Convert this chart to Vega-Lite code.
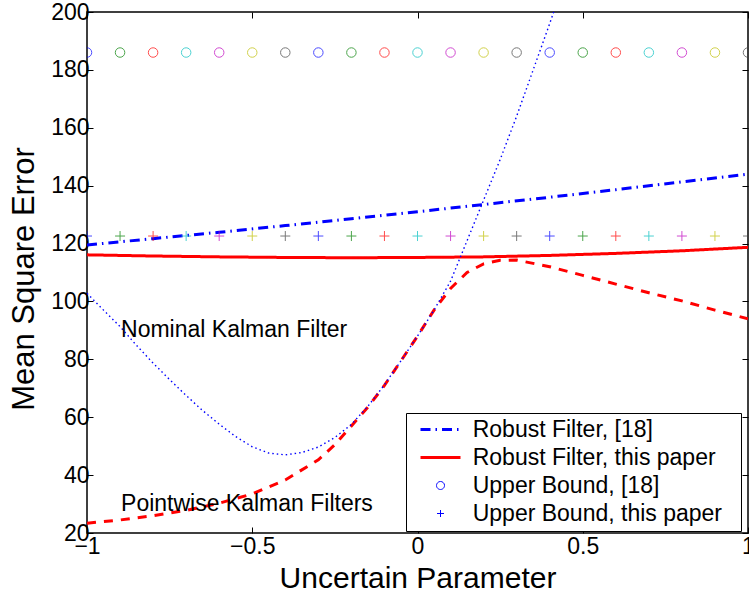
{
  "$schema": "https://vega.github.io/schema/vega-lite/v6.json",
  "width": 661,
  "height": 521,
  "autosize": "none",
  "padding": {"left": 87, "top": 12, "right": 1, "bottom": 63},
  "config": {
    "view": {"stroke": "black", "strokeWidth": 1.5},
    "font": "Liberation Sans",
    "axis": {"grid": false, "domain": false, "tickColor": "black", "tickWidth": 1, "labelColor": "black", "titleColor": "black", "labelFont": "Liberation Sans", "titleFont": "Liberation Sans", "titleFontWeight": "normal", "labelFontSize": 23, "titleFontSize": 30}
  },
  "datasets": {
    "curves": [
      {"s": "Robust Filter, [18]", "x": -1, "y": 119.5},
      {"s": "Robust Filter, [18]", "x": -0.8, "y": 121.7},
      {"s": "Robust Filter, [18]", "x": -0.6, "y": 123.9},
      {"s": "Robust Filter, [18]", "x": -0.4, "y": 126.2},
      {"s": "Robust Filter, [18]", "x": -0.2, "y": 128.6},
      {"s": "Robust Filter, [18]", "x": 0, "y": 131.0},
      {"s": "Robust Filter, [18]", "x": 0.2, "y": 133.5},
      {"s": "Robust Filter, [18]", "x": 0.4, "y": 136.0},
      {"s": "Robust Filter, [18]", "x": 0.6, "y": 138.6},
      {"s": "Robust Filter, [18]", "x": 0.8, "y": 141.3},
      {"s": "Robust Filter, [18]", "x": 1, "y": 144.0},
      {"s": "Robust Filter, this paper", "x": -1, "y": 116.1},
      {"s": "Robust Filter, this paper", "x": -0.8, "y": 115.7},
      {"s": "Robust Filter, this paper", "x": -0.6, "y": 115.4},
      {"s": "Robust Filter, this paper", "x": -0.4, "y": 115.2},
      {"s": "Robust Filter, this paper", "x": -0.2, "y": 115.1},
      {"s": "Robust Filter, this paper", "x": 0, "y": 115.2},
      {"s": "Robust Filter, this paper", "x": 0.2, "y": 115.4},
      {"s": "Robust Filter, this paper", "x": 0.4, "y": 115.9},
      {"s": "Robust Filter, this paper", "x": 0.6, "y": 116.6},
      {"s": "Robust Filter, this paper", "x": 0.8, "y": 117.5},
      {"s": "Robust Filter, this paper", "x": 1, "y": 118.7},
      {"s": "Pointwise", "x": -1, "y": 23.4},
      {"s": "Pointwise", "x": -0.9, "y": 24.5},
      {"s": "Pointwise", "x": -0.8, "y": 26.0},
      {"s": "Pointwise", "x": -0.7, "y": 27.8},
      {"s": "Pointwise", "x": -0.6, "y": 30.3},
      {"s": "Pointwise", "x": -0.5, "y": 33.5},
      {"s": "Pointwise", "x": -0.4, "y": 38.3},
      {"s": "Pointwise", "x": -0.3, "y": 45.3},
      {"s": "Pointwise", "x": -0.25, "y": 50.5},
      {"s": "Pointwise", "x": -0.2, "y": 57.0},
      {"s": "Pointwise", "x": -0.15, "y": 63.5},
      {"s": "Pointwise", "x": -0.1, "y": 71.0},
      {"s": "Pointwise", "x": -0.05, "y": 79.5},
      {"s": "Pointwise", "x": 0, "y": 88.0},
      {"s": "Pointwise", "x": 0.05, "y": 97.0},
      {"s": "Pointwise", "x": 0.1, "y": 104.5},
      {"s": "Pointwise", "x": 0.15, "y": 110.0},
      {"s": "Pointwise", "x": 0.2, "y": 113.0},
      {"s": "Pointwise", "x": 0.25, "y": 114.2},
      {"s": "Pointwise", "x": 0.3, "y": 114.3},
      {"s": "Pointwise", "x": 0.4, "y": 112.0},
      {"s": "Pointwise", "x": 0.5, "y": 109.0},
      {"s": "Pointwise", "x": 0.6, "y": 106.0},
      {"s": "Pointwise", "x": 0.7, "y": 103.0},
      {"s": "Pointwise", "x": 0.8, "y": 100.2},
      {"s": "Pointwise", "x": 0.9, "y": 97.0},
      {"s": "Pointwise", "x": 1, "y": 94.0},
      {"s": "Nominal", "x": -1, "y": 102.8},
      {"s": "Nominal", "x": -0.95, "y": 97.0},
      {"s": "Nominal", "x": -0.9, "y": 91.3},
      {"s": "Nominal", "x": -0.85, "y": 84.8},
      {"s": "Nominal", "x": -0.8, "y": 78.7},
      {"s": "Nominal", "x": -0.75, "y": 73.0},
      {"s": "Nominal", "x": -0.7, "y": 67.5},
      {"s": "Nominal", "x": -0.65, "y": 62.3},
      {"s": "Nominal", "x": -0.6, "y": 57.6},
      {"s": "Nominal", "x": -0.55, "y": 53.3},
      {"s": "Nominal", "x": -0.5, "y": 49.8},
      {"s": "Nominal", "x": -0.45, "y": 47.6},
      {"s": "Nominal", "x": -0.4, "y": 47.0},
      {"s": "Nominal", "x": -0.35, "y": 47.8},
      {"s": "Nominal", "x": -0.3, "y": 49.7},
      {"s": "Nominal", "x": -0.25, "y": 53.0},
      {"s": "Nominal", "x": -0.2, "y": 57.5},
      {"s": "Nominal", "x": -0.15, "y": 63.8},
      {"s": "Nominal", "x": -0.1, "y": 71.2},
      {"s": "Nominal", "x": -0.05, "y": 79.5},
      {"s": "Nominal", "x": 0, "y": 88.0},
      {"s": "Nominal", "x": 0.05, "y": 97.0},
      {"s": "Nominal", "x": 0.1, "y": 107.0},
      {"s": "Nominal", "x": 0.15, "y": 121.0},
      {"s": "Nominal", "x": 0.2, "y": 135.0},
      {"s": "Nominal", "x": 0.25, "y": 149.0},
      {"s": "Nominal", "x": 0.3, "y": 164.0},
      {"s": "Nominal", "x": 0.35, "y": 180.0},
      {"s": "Nominal", "x": 0.4, "y": 196.0},
      {"s": "Nominal", "x": 0.43, "y": 206.0}
    ],
    "circles": [
      {"x": -1, "y": 186, "k": 0}, {"x": -0.9, "y": 186, "k": 1}, {"x": -0.8, "y": 186, "k": 2},
      {"x": -0.7, "y": 186, "k": 3}, {"x": -0.6, "y": 186, "k": 4}, {"x": -0.5, "y": 186, "k": 5},
      {"x": -0.4, "y": 186, "k": 6}, {"x": -0.3, "y": 186, "k": 0}, {"x": -0.2, "y": 186, "k": 1},
      {"x": -0.1, "y": 186, "k": 2}, {"x": 0, "y": 186, "k": 3}, {"x": 0.1, "y": 186, "k": 4},
      {"x": 0.2, "y": 186, "k": 5}, {"x": 0.3, "y": 186, "k": 6}, {"x": 0.4, "y": 186, "k": 0},
      {"x": 0.5, "y": 186, "k": 1}, {"x": 0.6, "y": 186, "k": 2}, {"x": 0.7, "y": 186, "k": 3},
      {"x": 0.8, "y": 186, "k": 4}, {"x": 0.9, "y": 186, "k": 5}, {"x": 1, "y": 186, "k": 6}
    ],
    "pluses": [
      {"x": -1, "y": 122.6, "k": 0}, {"x": -0.9, "y": 122.6, "k": 1}, {"x": -0.8, "y": 122.6, "k": 2},
      {"x": -0.7, "y": 122.6, "k": 3}, {"x": -0.6, "y": 122.6, "k": 4}, {"x": -0.5, "y": 122.6, "k": 5},
      {"x": -0.4, "y": 122.6, "k": 6}, {"x": -0.3, "y": 122.6, "k": 0}, {"x": -0.2, "y": 122.6, "k": 1},
      {"x": -0.1, "y": 122.6, "k": 2}, {"x": 0, "y": 122.6, "k": 3}, {"x": 0.1, "y": 122.6, "k": 4},
      {"x": 0.2, "y": 122.6, "k": 5}, {"x": 0.3, "y": 122.6, "k": 6}, {"x": 0.4, "y": 122.6, "k": 0},
      {"x": 0.5, "y": 122.6, "k": 1}, {"x": 0.6, "y": 122.6, "k": 2}, {"x": 0.7, "y": 122.6, "k": 3},
      {"x": 0.8, "y": 122.6, "k": 4}, {"x": 0.9, "y": 122.6, "k": 5}, {"x": 1, "y": 122.6, "k": 6}
    ],
    "notes": [
      {"x": -0.897, "y": 90.1, "label": "Nominal Kalman Filter"},
      {"x": -0.897, "y": 30.0, "label": "Pointwise Kalman Filters"}
    ]
  },
  "resolve": {"axis": {"x": "independent", "y": "independent"}},
  "layer": [
    {
      "data": {"name": "curves"},
      "mark": {"type": "line", "clip": true},
      "encoding": {
        "x": {"field": "x", "type": "quantitative", "scale": {"domain": [-1, 1], "nice": false, "zero": false},
              "axis": {"orient": "bottom", "values": [-1, -0.5, 0, 0.5, 1], "format": "~g", "tickSize": -6, "labelPadding": 8, "labelFlush": false, "title": "Uncertain Parameter", "titleBaseline": "alphabetic", "titleY": 54}},
        "y": {"field": "y", "type": "quantitative", "scale": {"domain": [20, 200], "nice": false, "zero": false},
              "axis": {"orient": "left", "values": [20, 40, 60, 80, 100, 120, 140, 160, 180, 200], "tickSize": -6, "labelPadding": 4, "labelFlush": false, "title": "Mean Square Error", "titleFontSize": 31, "titleBaseline": "alphabetic", "titleX": -54, "titleY": 266.5}},
        "color": {"field": "s", "type": "nominal",
          "scale": {"domain": ["Robust Filter, [18]", "Robust Filter, this paper", "Upper Bound, [18]", "Upper Bound, this paper", "Nominal", "Pointwise"],
                    "range": ["#0000ff", "#ff0000", "#0000ff", "#0000ff", "#0000ff", "#ff0000"]},
          "legend": {
            "title": ".", "titleOrient": "right", "titleFontSize": 1, "titlePadding": 13, "titleOpacity": 0,
            "orient": "none", "legendX": 319, "legendY": 401,
            "values": ["Robust Filter, [18]", "Robust Filter, this paper", "Upper Bound, [18]", "Upper Bound, this paper"],
            "symbolSize": 400, "symbolOffset": 18, "labelOffset": 20.7, "padding": 5, "rowPadding": 4,
            "labelFont": "Liberation Sans", "labelFontSize": 23, "labelColor": "black", "labelLimit": 500,
            "strokeColor": "black", "fillColor": "white",
            "encode": {
              "symbols": {"update": {
                "shape": {"signal": "datum.value == 'Upper Bound, [18]' ? 'M0.4,0A0.4,0.4,0,1,1,-0.4,0A0.4,0.4,0,1,1,0.4,0Z' : (datum.value == 'Upper Bound, this paper' ? 'M-0.35,0H0.35M0,-0.35V0.35' : 'M-2,0H2')"},
                "strokeDash": {"signal": "datum.value == 'Robust Filter, [18]' ? [10,5,1.5,5] : [1,0]"},
                "strokeWidth": {"signal": "indexof(['Upper Bound, [18]','Upper Bound, this paper'], datum.value) >= 0 ? 1 : 3"},
                "fill": {"value": "transparent"}
              }}
            }
          }},
        "strokeDash": {"field": "s", "type": "nominal", "legend": null,
          "scale": {"domain": ["Robust Filter, [18]", "Robust Filter, this paper", "Nominal", "Pointwise"],
                    "range": [[10, 5, 1.5, 5], [1, 0], [1.5, 3], [9, 8]]}},
        "strokeWidth": {"condition": {"test": "datum.s == 'Nominal'", "value": 1.4}, "value": 3}
      }
    },
    {
      "data": {"name": "circles"},
      "mark": {"type": "point", "shape": "circle", "filled": false, "size": 90, "strokeWidth": 1, "clip": true},
      "encoding": {
        "x": {"field": "x", "type": "quantitative", "axis": null},
        "y": {"field": "y", "type": "quantitative", "axis": null},
        "stroke": {"field": "k", "type": "nominal", "legend": null,
          "scale": {"domain": [0, 1, 2, 3, 4, 5, 6], "range": ["#0000ff", "#008000", "#ff0000", "#00bfbf", "#bf00bf", "#bfbf00", "#404040"]}}
      }
    },
    {
      "data": {"name": "pluses"},
      "mark": {"type": "point", "shape": "M-1,0H1M0,-1V1", "filled": false, "size": 100, "strokeWidth": 1, "clip": true},
      "encoding": {
        "x": {"field": "x", "type": "quantitative", "axis": null},
        "y": {"field": "y", "type": "quantitative", "axis": null},
        "stroke": {"field": "k", "type": "nominal", "legend": null}
      }
    },
    {
      "data": {"name": "notes"},
      "mark": {"type": "text", "align": "left", "baseline": "middle", "font": "Liberation Sans", "fontSize": 23, "color": "black"},
      "encoding": {
        "x": {"field": "x", "type": "quantitative",
              "axis": {"orient": "top", "values": [-1, -0.5, 0, 0.5, 1], "labels": false, "tickSize": -6, "title": null}},
        "y": {"field": "y", "type": "quantitative",
              "axis": {"orient": "right", "values": [20, 40, 60, 80, 100, 120, 140, 160, 180, 200], "labels": false, "tickSize": -6, "title": null}},
        "text": {"field": "label"}
      }
    }
  ]
}
